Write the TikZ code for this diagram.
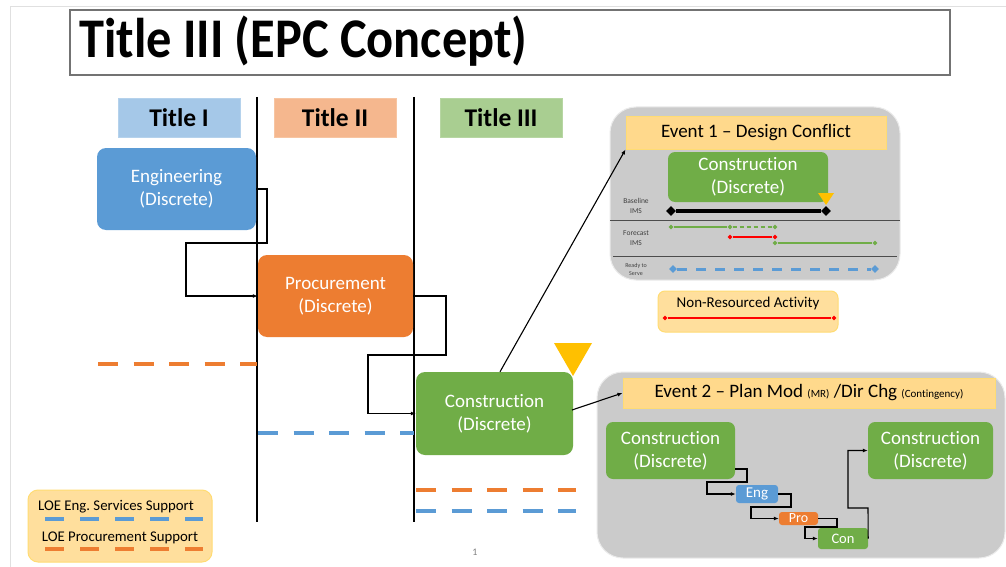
\documentclass[tikz,border=0pt]{standalone}
\usepackage{fontspec}
\setmainfont{Carlito}[Ligatures=NoCommon]
\usetikzlibrary{arrows.meta,shapes.geometric}
\frenchspacing
\definecolor{blu}{HTML}{5B9BD5}
\definecolor{org}{HTML}{ED7D31}
\definecolor{grn}{HTML}{70AD47}
\definecolor{gold}{HTML}{FFC000}
\definecolor{peach}{HTML}{FFD98C}
\definecolor{panelgray}{HTML}{CBCBCB}
\tikzset{
  task/.style={rounded corners=9pt,text=white,align=center,inner sep=0pt,
    font=\fontsize{19}{23}\selectfont},
  hdr/.style={minimum width=122pt,minimum height=39pt,inner sep=0pt,
    font=\bfseries\fontsize{25.5}{25}\selectfont},
  flow/.style={line width=1.1pt,-{Latex[length=5pt,width=4pt]}},
  loe/.style={line width=4.5pt,dash pattern=on 20pt off 15.5pt},
  panel/.style={rounded corners=26pt,fill=panelgray,draw=black!8,line width=1pt,inner sep=0pt},
  evhdr/.style={fill=peach,draw=gold!55,line width=1pt,inner sep=0pt,
    font=\fontsize{19}{19}\selectfont},
  dia/.style={diamond,fill,inner sep=0pt,minimum size=#1},
  tiny/.style={text=black!75,align=center,font=\fontsize{7.5}{10}\selectfont},
}
\begin{document}
\begin{tikzpicture}[x=1pt,y=-1pt,line cap=butt]
\useasboundingbox (0,0) rectangle (1006,567);
\fill[white] (0,0) rectangle (1006,567);
\draw[black!12,line width=1pt] (10,567) -- (10,7) -- (1006,7);

% heading
\draw[black!55,line width=1.5pt] (70,10) rectangle (950,75);
\node[anchor=base west,inner sep=0pt,font=\bfseries\fontsize{56}{56}\selectfont] (ttl) at (79,58) {\scalebox{0.9}[1]{Title III (EPC Concept)}};

\node[hdr,fill=blu!55,draw=blu!45] (t1) at (179,117.5) {Title I};
\node[hdr,fill=org!55,draw=org!45] (t2) at (335,117.5) {Title II};
\node[hdr,fill=grn!60,draw=grn!50] (t3) at (501,117.5) {Title III};

\draw[line width=2.5pt] (257,97) -- (257,522);
\draw[line width=2.5pt] (414,97) -- (414,522);

% discrete work packages
\node[task,fill=blu,minimum width=159pt,minimum height=82pt] (eng) at (176.5,189) {Engineering\\(Discrete)};
\node[task,fill=org,minimum width=155pt,minimum height=82pt] (proc) at (335.5,296) {Procurement\\(Discrete)};
\node[task,fill=grn,minimum width=157pt,minimum height=83pt] (con) at (494.5,413.5) {Construction\\(Discrete)};
\fill[gold] (554,343) -- (592,343) -- (573,376) -- cycle;

\draw[flow] (eng.east) -- (267,189) -- (267,243) -- (186,243) -- (186,296) -- (proc.west);
\draw[flow] (proc.east) -- (446,296) -- (446,355) -- (368,355) -- (368,413.5) -- (con.west);

% level of effort
\draw[loe,org] (98,364) -- (257,364);
\draw[loe,blu] (258,433) -- (414,433);
\draw[loe,org] (416,490) -- (576,490);
\draw[loe,blu] (416,511) -- (576,511);

% event 1
\node[panel,minimum width=290pt,minimum height=173pt] (ev1) at (755,193.5) {};
\node[evhdr,minimum width=260pt,minimum height=32pt] (ev1h) at (756,133) {Event 1 -- Design Conflict};
\node[task,fill=grn,rounded corners=7pt,minimum width=160pt,minimum height=50pt] (ev1c) at (748,177) {Construction\\(Discrete)};
\fill[gold] (818,193) -- (834,193) -- (826,205) -- cycle;
\draw[black!70,line width=1pt] (610,220) -- (900,220) (613,256) -- (897,256);
\node[tiny] (bl) at (636,205.5) {Baseline\\IMS};
\node[tiny] (fc) at (636,238.5) {Forecast\\IMS};
\node[tiny,font=\fontsize{6}{8}\selectfont] (rs) at (636,269) {Ready to\\Serve};
\node[dia=10pt] (b1) at (671,211) {};
\node[dia=10pt] (b2) at (826,211) {};
\draw[line width=4pt] (b1) -- (b2);
\node[dia=5pt,grn] (f1) at (671,227) {};
\node[dia=5pt,grn] (f2) at (730,227) {};
\node[dia=5pt,grn] (f3) at (775,227) {};
\draw[grn,line width=1.2pt] (f1) -- (f2);
\draw[grn,line width=1.2pt,dash pattern=on 4pt off 3pt] (f2) -- (f3);
\node[dia=5pt,red] (r1) at (730,237) {};
\node[dia=5pt,red] (r2) at (775,237) {};
\draw[red,line width=2pt] (r1) -- (r2);
\node[dia=5pt,grn] (g1) at (775,243) {};
\node[dia=5pt,grn] (g2) at (875,243) {};
\draw[grn,line width=1.2pt] (g1) -- (g2);
\node[dia=8pt,blu] (s1) at (673,269) {};
\node[dia=8pt,blu] (s2) at (875,269) {};
\draw[blu,line width=3pt,dash pattern=on 10pt off 9pt] (s1) -- (s2);

\node[evhdr,rounded corners=7pt,fill=peach!85,minimum width=180pt,minimum height=41pt] (nra) at (748,311.5) {};
\node[font=\fontsize{15}{15}\selectfont] (nrat) at (748,303) {Non-Resourced Activity};
\node[dia=5pt,red] (n1) at (665,318) {};
\node[dia=5pt,red] (n2) at (834,318) {};
\draw[red,line width=1.5pt] (n1) -- (n2);

% event 2
\node[panel,minimum width=408pt,minimum height=186pt] (ev2) at (801,465) {};
\node[evhdr,minimum width=372pt,minimum height=30pt] (ev2h) at (809,393) {Event 2 -- Plan Mod {\fontsize{11}{11}\selectfont(MR)} /Dir Chg {\fontsize{11}{11}\selectfont(Contingency)}};
\node[task,fill=grn,rounded corners=7pt,minimum width=129pt,minimum height=57pt] (cl) at (670.5,450.5) {Construction\\(Discrete)};
\node[task,fill=grn,rounded corners=7pt,minimum width=125pt,minimum height=57pt] (cr) at (930.5,450.5) {Construction\\(Discrete)};
\node[task,fill=blu,rounded corners=3pt,minimum width=42pt,minimum height=18pt,font=\fontsize{15}{15}\selectfont] (e2) at (757,494) {Eng};
\node[task,fill=org,rounded corners=3pt,minimum width=39pt,minimum height=13pt,font=\fontsize{14}{14}\selectfont] (p2) at (798.5,518.5) {Pro};
\node[task,fill=grn,rounded corners=3pt,minimum width=50pt,minimum height=21pt,font=\fontsize{14.5}{14}\selectfont] (c2) at (843,538.5) {Con};
\draw[flow] (cl.east |- 0,469) -- (747,469) -- (747,482) -- (707,482) -- (707,494) -- (e2.west);
\draw[flow] (e2.east) -- (791,494) -- (791,507) -- (751,507) -- (751,518.5) -- (p2.west);
\draw[flow] (p2.east) -- (837,518.5) -- (837,527) -- (805,527) -- (805,538.5) -- (c2.west);
\draw[flow] (c2.east) -- (868,508) -- (848,508) -- (848,450.5) -- (cr.west);

% links to the events
\draw[flow] (con.north -| 500,0) -- (ev1h.south west);
\draw[flow] (572,410) -- (ev2h.west);

% legend
\node[evhdr,rounded corners=10pt,fill=peach!85,minimum width=184pt,minimum height=72pt] (leg) at (120,526) {};
\node[font=\fontsize{14.8}{14}\selectfont] (lg1) at (116,507) {LOE Eng. Services Support};
\node[font=\fontsize{14.8}{14}\selectfont] (lg2) at (120,538) {LOE Procurement Support};
\draw[blu,line width=4pt,dash pattern=on 19pt off 16pt] (45,519) -- (203,519);
\draw[org,line width=4pt,dash pattern=on 19pt off 16pt] (45,549) -- (203,549);

\node[text=black!50,font=\fontsize{10}{10}\selectfont] (pg) at (475,552) {1};
\end{tikzpicture}
\end{document}
